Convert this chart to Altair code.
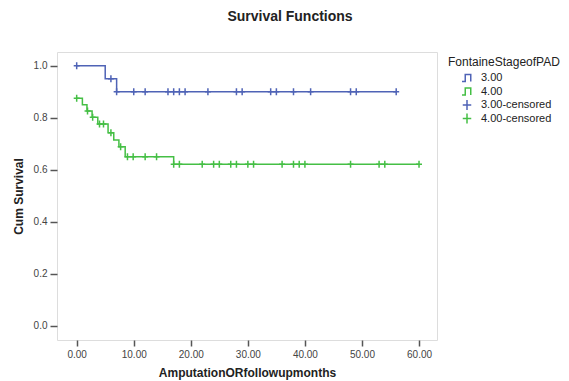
import altair as alt
import pandas as pd

# ---- data ----
blue_step_t = [0, 5, 7, 56]
blue_step_s = [1.0, 0.95, 0.90, 0.90]
blue_cens_t = [0, 6, 7, 10, 12, 16, 17, 18, 19, 23, 28, 29, 34, 35, 38, 41, 48, 49, 56]
blue_cens_s = [1.0, 0.95, 0.90, 0.90, 0.90, 0.90, 0.90, 0.90, 0.90, 0.90, 0.90, 0.90,
               0.90, 0.90, 0.90, 0.90, 0.90, 0.90, 0.90]

green_step_t = [0, 1, 1.8, 2.7, 3.7, 5.5, 6.5, 7.4, 8.5, 17, 60]
green_step_s = [0.875, 0.85, 0.826, 0.802, 0.776, 0.743, 0.715, 0.689, 0.65, 0.622, 0.622]
green_cens_t = [0, 1.9, 2.8, 4, 4.7, 6, 7.7, 8.9, 9.9, 12, 14, 17, 18, 22, 24, 25, 27, 28,
                30, 31, 36, 38, 39, 40, 48, 53, 54, 60]
green_cens_s = [0.875, 0.826, 0.802, 0.776, 0.776, 0.743, 0.689, 0.65, 0.65, 0.65, 0.65,
                0.622, 0.622, 0.622, 0.622, 0.622, 0.622, 0.622, 0.622, 0.622, 0.622,
                0.622, 0.622, 0.622, 0.622, 0.622, 0.622, 0.622]

labels = ["3.00", "4.00", "3.00-censored", "4.00-censored"]
colors = ["#4f63b6", "#45bf45", "#4f63b6", "#45bf45"]
x_ticks = [0, 10, 20, 30, 40, 50, 60]
y_ticks = [0.0, 0.2, 0.4, 0.6, 0.8, 1.0]

step_path = "M-1,0.7L-0.35,0.7L-0.35,-0.7L0.75,-0.7L0.75,0.7"
plus_path = "M-0.85,0L0.85,0M0,-1L0,1"
shapes = [step_path, step_path, plus_path, plus_path]

lines = pd.DataFrame({
    "t": blue_step_t + green_step_t,
    "s": blue_step_s + green_step_s,
    "label": ["3.00"] * len(blue_step_t) + ["4.00"] * len(green_step_t),
})
cens = pd.DataFrame({
    "t": blue_cens_t + green_cens_t,
    "s": blue_cens_s + green_cens_s,
    "label": ["3.00-censored"] * len(blue_cens_t) + ["4.00-censored"] * len(green_cens_t),
})

FONT = "Liberation Sans"
xscale = alt.Scale(domain=[-3.45, 63.15], nice=False, zero=False)
yscale = alt.Scale(domain=[-0.054, 1.053], nice=False, zero=False)

legend = alt.Legend(
    title="FontaineStageofPAD", orient="none", legendX=391, legendY=5,
    titleFont=FONT, titleFontSize=12, titleFontWeight="normal", titleColor="#222",
    labelFont=FONT, labelFontSize=11, labelColor="#222",
    symbolSize=100, symbolStrokeWidth=1.5, symbolOffset=13, labelOffset=8,
    clipHeight=12, rowPadding=1.5, titlePadding=3, padding=0, symbolFillColor="transparent",
)
color = alt.Color("label:N", scale=alt.Scale(domain=labels, range=colors), legend=legend)

xaxis = alt.Axis(values=x_ticks, format=".2f", title="AmputationORfollowupmonths",
                 domain=False, grid=False, tickSize=6, tickColor="#555", tickWidth=1.5,
                 labelFont=FONT, labelFontSize=10, labelColor="#444", labelPadding=3,
                 titleFont=FONT, titleFontSize=12, titleFontWeight="bold", titleColor="#222",
                 titlePadding=8)
yaxis = alt.Axis(values=y_ticks, format=".1f", title="Cum Survival",
                 domain=False, grid=False, tickSize=7, tickColor="#555", tickWidth=1.5,
                 labelFont=FONT, labelFontSize=10, labelColor="#444", labelPadding=3,
                 titleFont=FONT, titleFontSize=12, titleFontWeight="bold", titleColor="#222",
                 titlePadding=8)

line_layer = alt.Chart(lines).mark_line(interpolate="step-after", strokeWidth=1.5).encode(
    x=alt.X("t:Q", scale=xscale, axis=xaxis),
    y=alt.Y("s:Q", scale=yscale, axis=yaxis),
    color=color,
)
point_layer = alt.Chart(cens).mark_point(filled=False, strokeWidth=1.5, size=49, opacity=1).encode(
    x=alt.X("t:Q", scale=xscale),
    y=alt.Y("s:Q", scale=yscale),
    color=color,
    shape=alt.Shape("label:N", scale=alt.Scale(domain=labels, range=shapes), legend=legend),
)

chart = alt.layer(line_layer, point_layer).properties(
    width=380, height=288,
    autosize=alt.AutoSizeParams(type="none"),
    padding={"left": 49, "top": 44, "right": 124, "bottom": 40},
    title=alt.TitleParams("Survival Functions", font=FONT, fontSize=14, fontWeight="bold",
                          color="#222", anchor="middle", dx=43, offset=28),
).configure_view(fill="#eeeeee", stroke="#8c8c8c", strokeWidth=1.5).configure(background="white")

chart.save("out.html", embed_options={"renderer": "svg", "actions": False})
